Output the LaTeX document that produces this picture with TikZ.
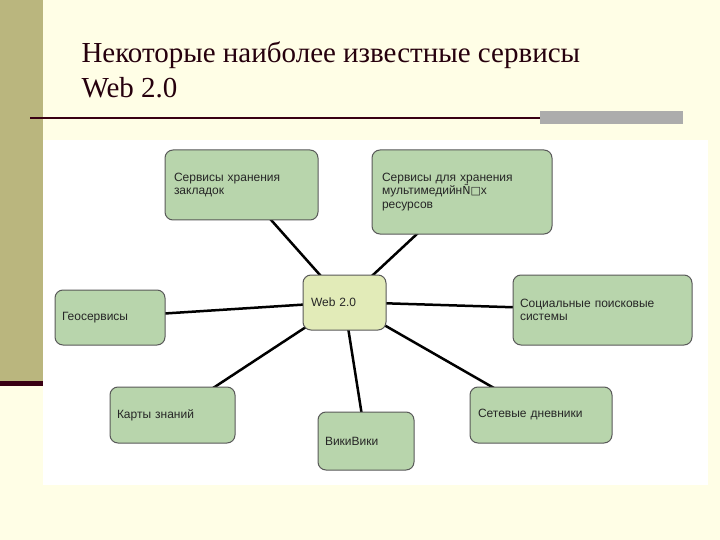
\documentclass[tikz,border=0pt]{standalone}
\usepackage{fontspec}
\newfontfamily\tserif{Liberation Serif}
\newfontfamily\nsans{Liberation Sans}
\newfontfamily\dejav{DejaVu Sans}
\definecolor{boxfill}{HTML}{B8D5AC}
\definecolor{webfill}{HTML}{E2EBB8}
\begin{document}
\begin{tikzpicture}[x=1pt,y=-1pt,
  box/.style={draw=gray!70!black,line width=1pt,rounded corners=8pt,fill=boxfill,
     font=\nsans\fontsize{12}{13.5}\selectfont,align=left,inner sep=0pt,text=black!85},
  link/.style={line width=2.5pt,black}]
\fill[yellow!10] (0,0) rectangle (720,540);
\useasboundingbox (0,0) rectangle (720,540);
\fill[olive!45!yellow!40!gray!80] (0,0) rectangle (43,382);
\fill[black!70!purple] (0,381) rectangle (43,386);
\node[anchor=west,font=\tserif\fontsize{29}{35}\selectfont,align=left,text=black!80!purple] (title) at (78,70) {Некоторые наиболее известные сервисы\\Web 2.0};
\fill[black!70!purple] (30,117) rectangle (540,119);
\fill[gray!65] (540,111) rectangle (683,124);
\fill[white] (43,140) rectangle (708,485);
\coordinate (c) at (344,302);
\draw[link] (c) -- (240,185);
\draw[link] (c) -- (462,192);
\draw[link] (c) -- (110,317);
\draw[link] (c) -- (602,310);
\draw[link] (c) -- (172,415);
\draw[link] (c) -- (366,441);
\draw[link] (c) -- (541,415);
\node[box,minimum width=153pt,minimum height=70pt,text width=135pt] (n1) at (241.5,185) {Сервисы хранения\\закладок\\[26pt]};
\node[box,minimum width=180pt,minimum height=84pt,text width=160pt] (n2) at (462,192) {Сервисы для хранения\\мультимедийн{\dejav\fontsize{11}{12}\selectfont Ñ□}х\\ресурсов\\[14pt]};
\node[box,fill=webfill,minimum width=83pt,minimum height=55pt,text width=67pt] (web) at (344.5,302.5) {Web 2.0\\[14pt]};
\node[box,minimum width=110pt,minimum height=55pt,text width=96pt] (geo) at (110,317.5) {Геосервисы};
\node[box,minimum width=179pt,minimum height=70pt,text width=165pt] (soc) at (602.5,310) {Социальные поисковые\\системы\\[8pt]};
\node[box,minimum width=125pt,minimum height=56pt,text width=111pt] (kar) at (172.5,415) {Карты знаний\\[8pt]};
\node[box,minimum width=96pt,minimum height=58pt,text width=82pt] (wiki) at (366,441) {ВикиВики\\[4pt]};
\node[box,minimum width=142pt,minimum height=56pt,text width=126pt] (set) at (541,415) {Сетевые дневники\\[8pt]};
\end{tikzpicture}
\end{document}
